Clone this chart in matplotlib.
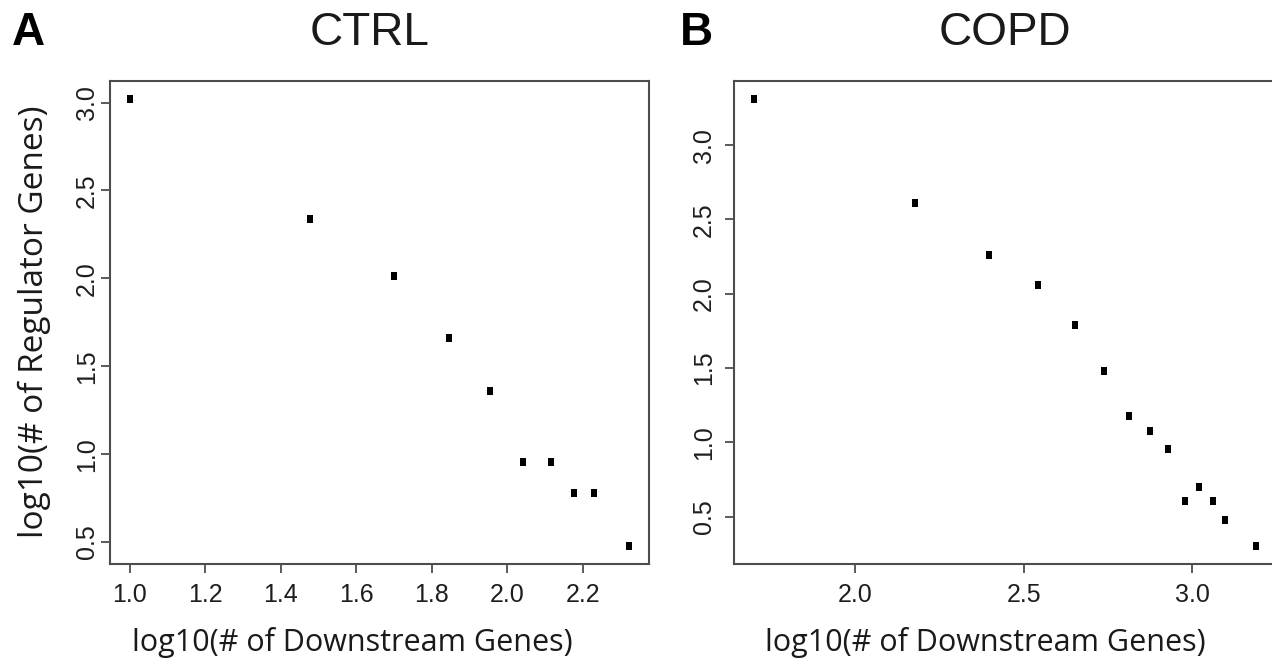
import numpy as np
import matplotlib
matplotlib.use('Agg')
import matplotlib.pyplot as plt
from matplotlib.path import Path

# CTRL panel: log10 counts
ctrl_x = [1.000, 1.477, 1.699, 1.845, 1.954, 2.041, 2.114, 2.176, 2.230, 2.322]
ctrl_y = [3.021, 2.336, 2.013, 1.663, 1.362, 0.954, 0.954, 0.778, 0.778, 0.477]
ctrl_xticks = [1.0, 1.2, 1.4, 1.6, 1.8, 2.0, 2.2]
ctrl_yticks = [0.5, 1.0, 1.5, 2.0, 2.5, 3.0]

# COPD panel
copd_x = [1.699, 2.176, 2.398, 2.544, 2.653, 2.740, 2.813, 2.875, 2.929,
          2.978, 3.021, 3.061, 3.097, 3.190]
copd_y = [3.311, 2.607, 2.260, 2.057, 1.792, 1.477, 1.176, 1.079, 0.954,
          0.602, 0.699, 0.602, 0.477, 0.301]
copd_xticks = [2.0, 2.5, 3.0]
copd_yticks = [0.5, 1.0, 1.5, 2.0, 2.5, 3.0]

xlab = 'log10(# of Downstream Genes)'
ylab = 'log10(# of Regulator Genes)'

tick_font = ['Liberation Sans Narrow', 'Liberation Sans']
label_font = ['Open Sans', 'DejaVu Sans']
frame_col = '#4d4d4d'

# slightly tall square, like the R pch=15 dots in the figure
box = Path([(-0.4, -0.5), (0.4, -0.5), (0.4, 0.5), (-0.4, 0.5), (-0.4, -0.5)],
           [Path.MOVETO, Path.LINETO, Path.LINETO, Path.LINETO, Path.CLOSEPOLY])

W, H = 1272, 659
fig = plt.figure(figsize=(W / 100, H / 100), dpi=100, facecolor='w')

ax1 = fig.add_axes([110 / W, 1 - 564 / H, 539 / W, 483 / H])
ax2 = fig.add_axes([734 / W, 1 - 564 / H, 542 / W, 483 / H])


def style(ax, x, y, xt, yt, ypad):
    ax.plot(x, y, linestyle='none', marker=box, markersize=6,
            color='black', markeredgewidth=0)
    ax.margins(x=0.04, y=0.04)
    ax.set_xticks(xt)
    ax.set_yticks(yt)
    ax.set_xticklabels(['%.1f' % v for v in xt], family=tick_font, fontsize=18)
    ax.set_yticklabels(['%.1f' % v for v in yt], family=tick_font, fontsize=18,
                       rotation=90, va='center')
    ax.tick_params(axis='both', direction='out', length=6.5, width=1.3,
                   color=frame_col, labelcolor='#1e1e1e')
    ax.tick_params(axis='x', pad=7)
    ax.tick_params(axis='y', pad=ypad)
    for s in ax.spines.values():
        s.set_color(frame_col)
        s.set_linewidth(1.5)


style(ax1, ctrl_x, ctrl_y, ctrl_xticks, ctrl_yticks, 1.5)
style(ax2, copd_x, copd_y, copd_xticks, copd_yticks, 6.5)

# panel letters and titles
fig.text(12 / W, 1 - 45 / H, 'A', family='Liberation Sans', weight='bold',
         fontsize=33, va='baseline', ha='left')
fig.text(680 / W, 1 - 45 / H, 'B', family='Liberation Sans', weight='bold',
         fontsize=33, va='baseline', ha='left')
fig.text(370 / W, 1 - 45 / H, 'CTRL', family='Liberation Sans',
         fontsize=33, va='baseline', ha='center', color='#1a1a1a')
fig.text(1005 / W, 1 - 45 / H, 'COPD', family='Liberation Sans',
         fontsize=33, va='baseline', ha='center', color='#1a1a1a')

# axis labels
fig.text(352 / W, 1 - 642 / H, xlab, family=label_font, fontsize=22,
         ha='center', va='center', color='#1a1a1a')
fig.text(985 / W, 1 - 642 / H, xlab, family=label_font, fontsize=22,
         ha='center', va='center', color='#1a1a1a')
fig.text(34 / W, 1 - 322 / H, ylab, family=label_font, fontsize=24,
         rotation=90, ha='center', va='center', color='#1a1a1a')

fig.savefig('out.png', dpi=100)
